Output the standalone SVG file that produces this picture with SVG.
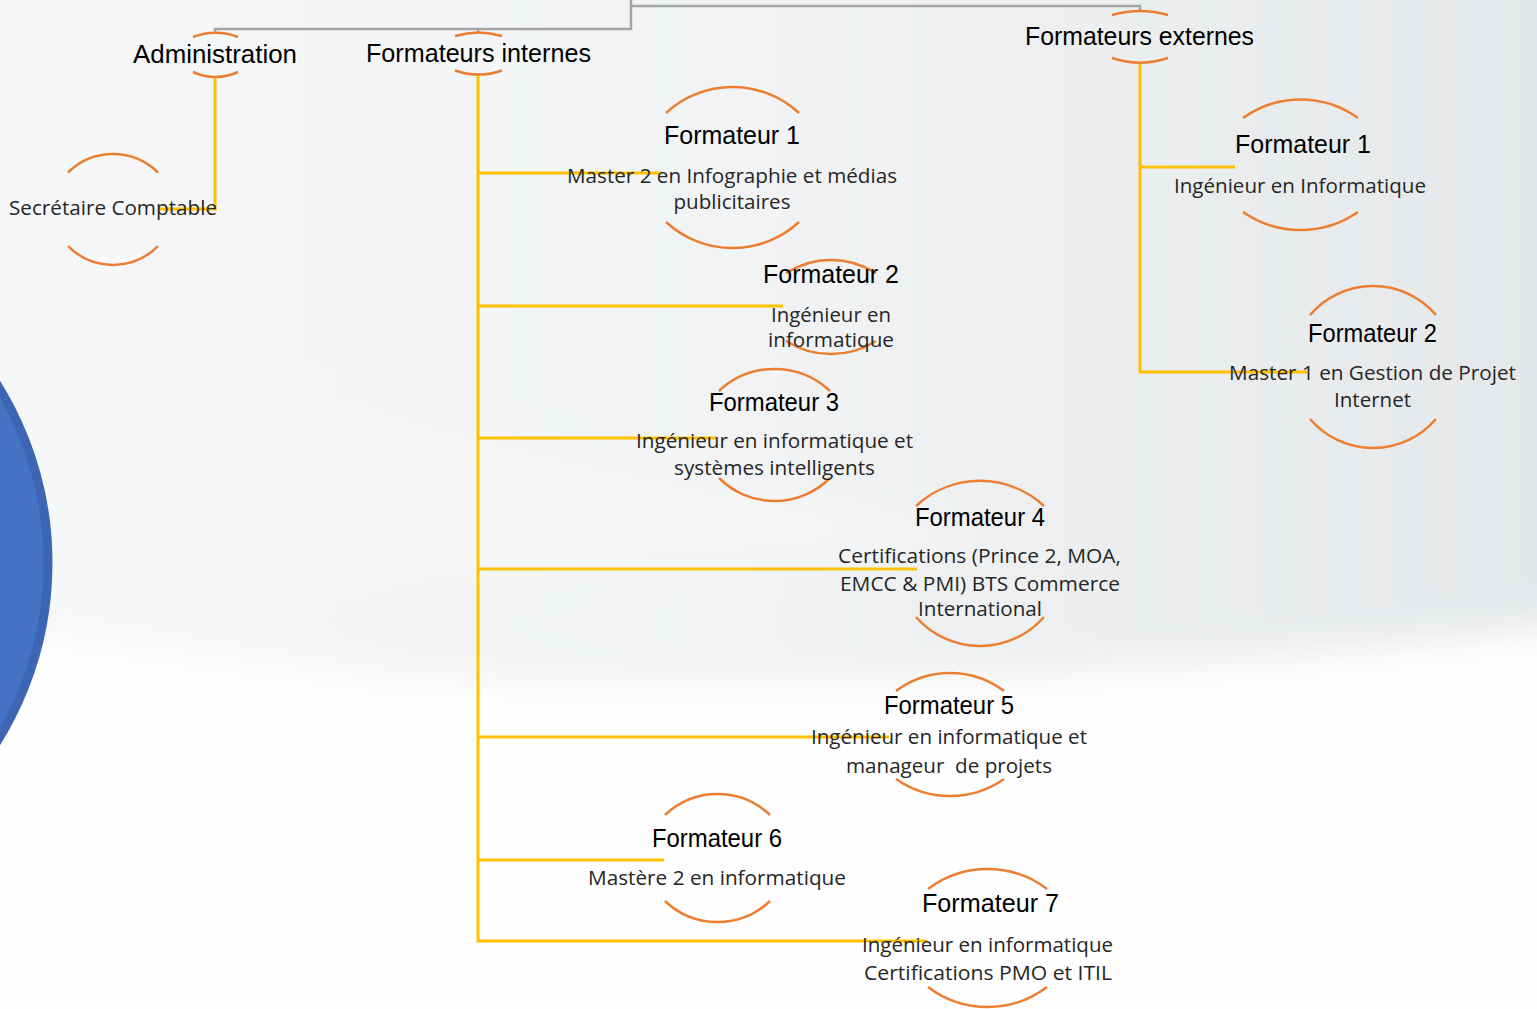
<svg xmlns="http://www.w3.org/2000/svg" width="1537" height="1009" viewBox="0 0 1537 1009">
<defs>
<linearGradient id="bgTop" x1="0" y1="0" x2="1" y2="0">
<stop offset="0" stop-color="#F7F8F9"/>
<stop offset="0.5" stop-color="#F1F3F4"/>
<stop offset="1" stop-color="#E4E7E9"/>
</linearGradient>
<filter id="soft" x="-10%" y="-10%" width="120%" height="120%">
<feGaussianBlur stdDeviation="18"/>
</filter>
<style>
.arc{fill:none;stroke:#ED7D31;stroke-width:2.5}
.conn{fill:none;stroke:#FFC000;stroke-width:3}
.grey{fill:none;stroke:#A5A5A5;stroke-width:2.5}
.t{font-family:"Liberation Sans",Arial,sans-serif;font-size:25px;fill:#000;text-anchor:middle}
.b{font-family:"Open Sans","Liberation Sans",sans-serif;font-size:20px;fill:#262626;text-anchor:middle}
</style>
</defs>
<g id="background">
<rect x="0" y="0" width="1537" height="1009" fill="#FDFDFD"/>
<g filter="url(#soft)">
<path d="M-60,-60 H1600 V700 Q1200,700 700,720 L-60,620 Z" fill="url(#bgTop)"/>
<path d="M-60,345 L1000,540 L-60,600 Z" fill="#F6F7F8"/>
<path d="M-60,640 Q700,740 1600,620 V1100 H-60 Z" fill="#FEFEFE"/>
</g>
<circle cx="-290" cy="563" r="338" fill="#4472C4" stroke="#3C66B4" stroke-width="9"/>
</g>
<g id="connectors">
<path class="grey" d="M215,34 V29 H631 V0"/>
<path class="grey" d="M478,29 V33"/>
<path class="grey" d="M631,6 H1140 V12"/>
<path class="conn" d="M215,77 V209 H158"/>
<path class="conn" d="M478,74 V941 H927"/>
<path class="conn" d="M478,173 H662"/>
<path class="conn" d="M478,306 H783"/>
<path class="conn" d="M478,438 H716"/>
<path class="conn" d="M478,569 H917"/>
<path class="conn" d="M478,737 H889"/>
<path class="conn" d="M478,860 H664"/>
<path class="conn" d="M1140,62 V372 H1307"/>
<path class="conn" d="M1140,167 H1235"/>
</g>
<g id="node-administration">
<path class="arc" d="M193,37 A65,65 0 0 1 238,37"/>
<path class="arc" d="M193,72 A53,53 0 0 0 238,72"/>
<text class="t" x="215" y="63" textLength="164" lengthAdjust="spacingAndGlyphs">Administration</text>
</g>
<g id="node-formateurs-internes">
<path class="arc" d="M455,36 A80,80 0 0 1 502,36"/>
<path class="arc" d="M455,70.5 A71,71 0 0 0 502,70.5"/>
<text class="t" x="478.5" y="62" textLength="225" lengthAdjust="spacingAndGlyphs">Formateurs internes</text>
</g>
<g id="node-formateurs-externes">
<path class="arc" d="M1112,15 A100,100 0 0 1 1168,15"/>
<path class="arc" d="M1112,58 A89,89 0 0 0 1168,58"/>
<text class="t" x="1139.5" y="45" textLength="229" lengthAdjust="spacingAndGlyphs">Formateurs externes</text>
</g>
<g id="node-secretaire">
<path class="arc" d="M68,172.5 A64,64 0 0 1 158,172.5"/>
<path class="arc" d="M68,246 A63,63 0 0 0 158,246"/>
<text class="b" x="113" y="215" textLength="208" lengthAdjust="spacingAndGlyphs">Secrétaire Comptable</text>
</g>
<g id="node-int-formateur-1">
<path class="arc" d="M666,113 A98,98 0 0 1 799,113"/>
<path class="arc" d="M666,222 A98,98 0 0 0 799,222"/>
<text class="t" x="732" y="144" textLength="136" lengthAdjust="spacingAndGlyphs">Formateur 1</text>
<text class="b" x="732" y="183" textLength="330" lengthAdjust="spacingAndGlyphs">Master 2 en Infographie et médias</text>
<text class="b" x="732" y="209" textLength="117" lengthAdjust="spacingAndGlyphs">publicitaires</text>
</g>
<g id="node-int-formateur-2">
<path class="arc" d="M786,273 A84,84 0 0 1 876,273"/>
<path class="arc" d="M786,341 A84,84 0 0 0 876,341"/>
<text class="t" x="831" y="283" textLength="136" lengthAdjust="spacingAndGlyphs">Formateur 2</text>
<text class="b" x="831" y="322" textLength="120" lengthAdjust="spacingAndGlyphs">Ingénieur en</text>
<text class="b" x="831" y="347" textLength="126" lengthAdjust="spacingAndGlyphs">informatique</text>
</g>
<g id="node-int-formateur-3">
<path class="arc" d="M719,391 A81,81 0 0 1 830,391"/>
<path class="arc" d="M719,478 A78.5,78.5 0 0 0 830,478"/>
<text class="t" x="774" y="411" textLength="130" lengthAdjust="spacingAndGlyphs">Formateur 3</text>
<text class="b" x="774.5" y="448" textLength="277" lengthAdjust="spacingAndGlyphs">Ingénieur en informatique et</text>
<text class="b" x="774.5" y="475" textLength="201" lengthAdjust="spacingAndGlyphs">systèmes intelligents</text>
</g>
<g id="node-int-formateur-4">
<path class="arc" d="M916,506 A94,94 0 0 1 1044,506"/>
<path class="arc" d="M916,617 A85,85 0 0 0 1044,617"/>
<text class="t" x="980" y="526" textLength="130" lengthAdjust="spacingAndGlyphs">Formateur 4</text>
<text class="b" x="979.5" y="563" textLength="283" lengthAdjust="spacingAndGlyphs">Certifications (Prince 2, MOA,</text>
<text class="b" x="980" y="591" textLength="280" lengthAdjust="spacingAndGlyphs">EMCC &amp; PMI) BTS Commerce</text>
<text class="b" x="980" y="616" textLength="124" lengthAdjust="spacingAndGlyphs">International</text>
</g>
<g id="node-int-formateur-5">
<path class="arc" d="M896,691 A90,90 0 0 1 1004,691"/>
<path class="arc" d="M896,779 A94,94 0 0 0 1004,779"/>
<text class="t" x="949" y="714" textLength="130" lengthAdjust="spacingAndGlyphs">Formateur 5</text>
<text class="b" x="949" y="744" textLength="276" lengthAdjust="spacingAndGlyphs">Ingénieur en informatique et</text>
<text class="b" x="949" y="773" textLength="206" lengthAdjust="spacingAndGlyphs" xml:space="preserve">manageur  de projets</text>
</g>
<g id="node-int-formateur-6">
<path class="arc" d="M665,815 A76,76 0 0 1 770,815"/>
<path class="arc" d="M665,901 A76,76 0 0 0 770,901"/>
<text class="t" x="717" y="847" textLength="130" lengthAdjust="spacingAndGlyphs">Formateur 6</text>
<text class="b" x="717" y="885" textLength="258" lengthAdjust="spacingAndGlyphs">Mastère 2 en informatique</text>
</g>
<g id="node-int-formateur-7">
<path class="arc" d="M928,889 A98.5,98.5 0 0 1 1047,889"/>
<path class="arc" d="M928,987 A98.5,98.5 0 0 0 1047,987"/>
<text class="t" x="990.5" y="912" textLength="137" lengthAdjust="spacingAndGlyphs">Formateur 7</text>
<text class="b" x="987.5" y="952" textLength="251" lengthAdjust="spacingAndGlyphs">Ingénieur en informatique</text>
<text class="b" x="988" y="980" textLength="248" lengthAdjust="spacingAndGlyphs">Certifications PMO et ITIL</text>
</g>
<g id="node-ext-formateur-1">
<path class="arc" d="M1243,118 A98.6,98.6 0 0 1 1358,118"/>
<path class="arc" d="M1243,212 A100.8,100.8 0 0 0 1358,212"/>
<text class="t" x="1303" y="153" textLength="136" lengthAdjust="spacingAndGlyphs">Formateur 1</text>
<text class="b" x="1300" y="193" textLength="252" lengthAdjust="spacingAndGlyphs">Ingénieur en Informatique</text>
</g>
<g id="node-ext-formateur-2">
<path class="arc" d="M1310,315 A83,83 0 0 1 1436,315"/>
<path class="arc" d="M1310,419 A83,83 0 0 0 1436,419"/>
<text class="t" x="1372.5" y="342" textLength="129" lengthAdjust="spacingAndGlyphs">Formateur 2</text>
<text class="b" x="1372.5" y="380" textLength="287" lengthAdjust="spacingAndGlyphs">Master 1 en Gestion de Projet</text>
<text class="b" x="1372.5" y="407" textLength="77" lengthAdjust="spacingAndGlyphs">Internet</text>
</g>
</svg>
